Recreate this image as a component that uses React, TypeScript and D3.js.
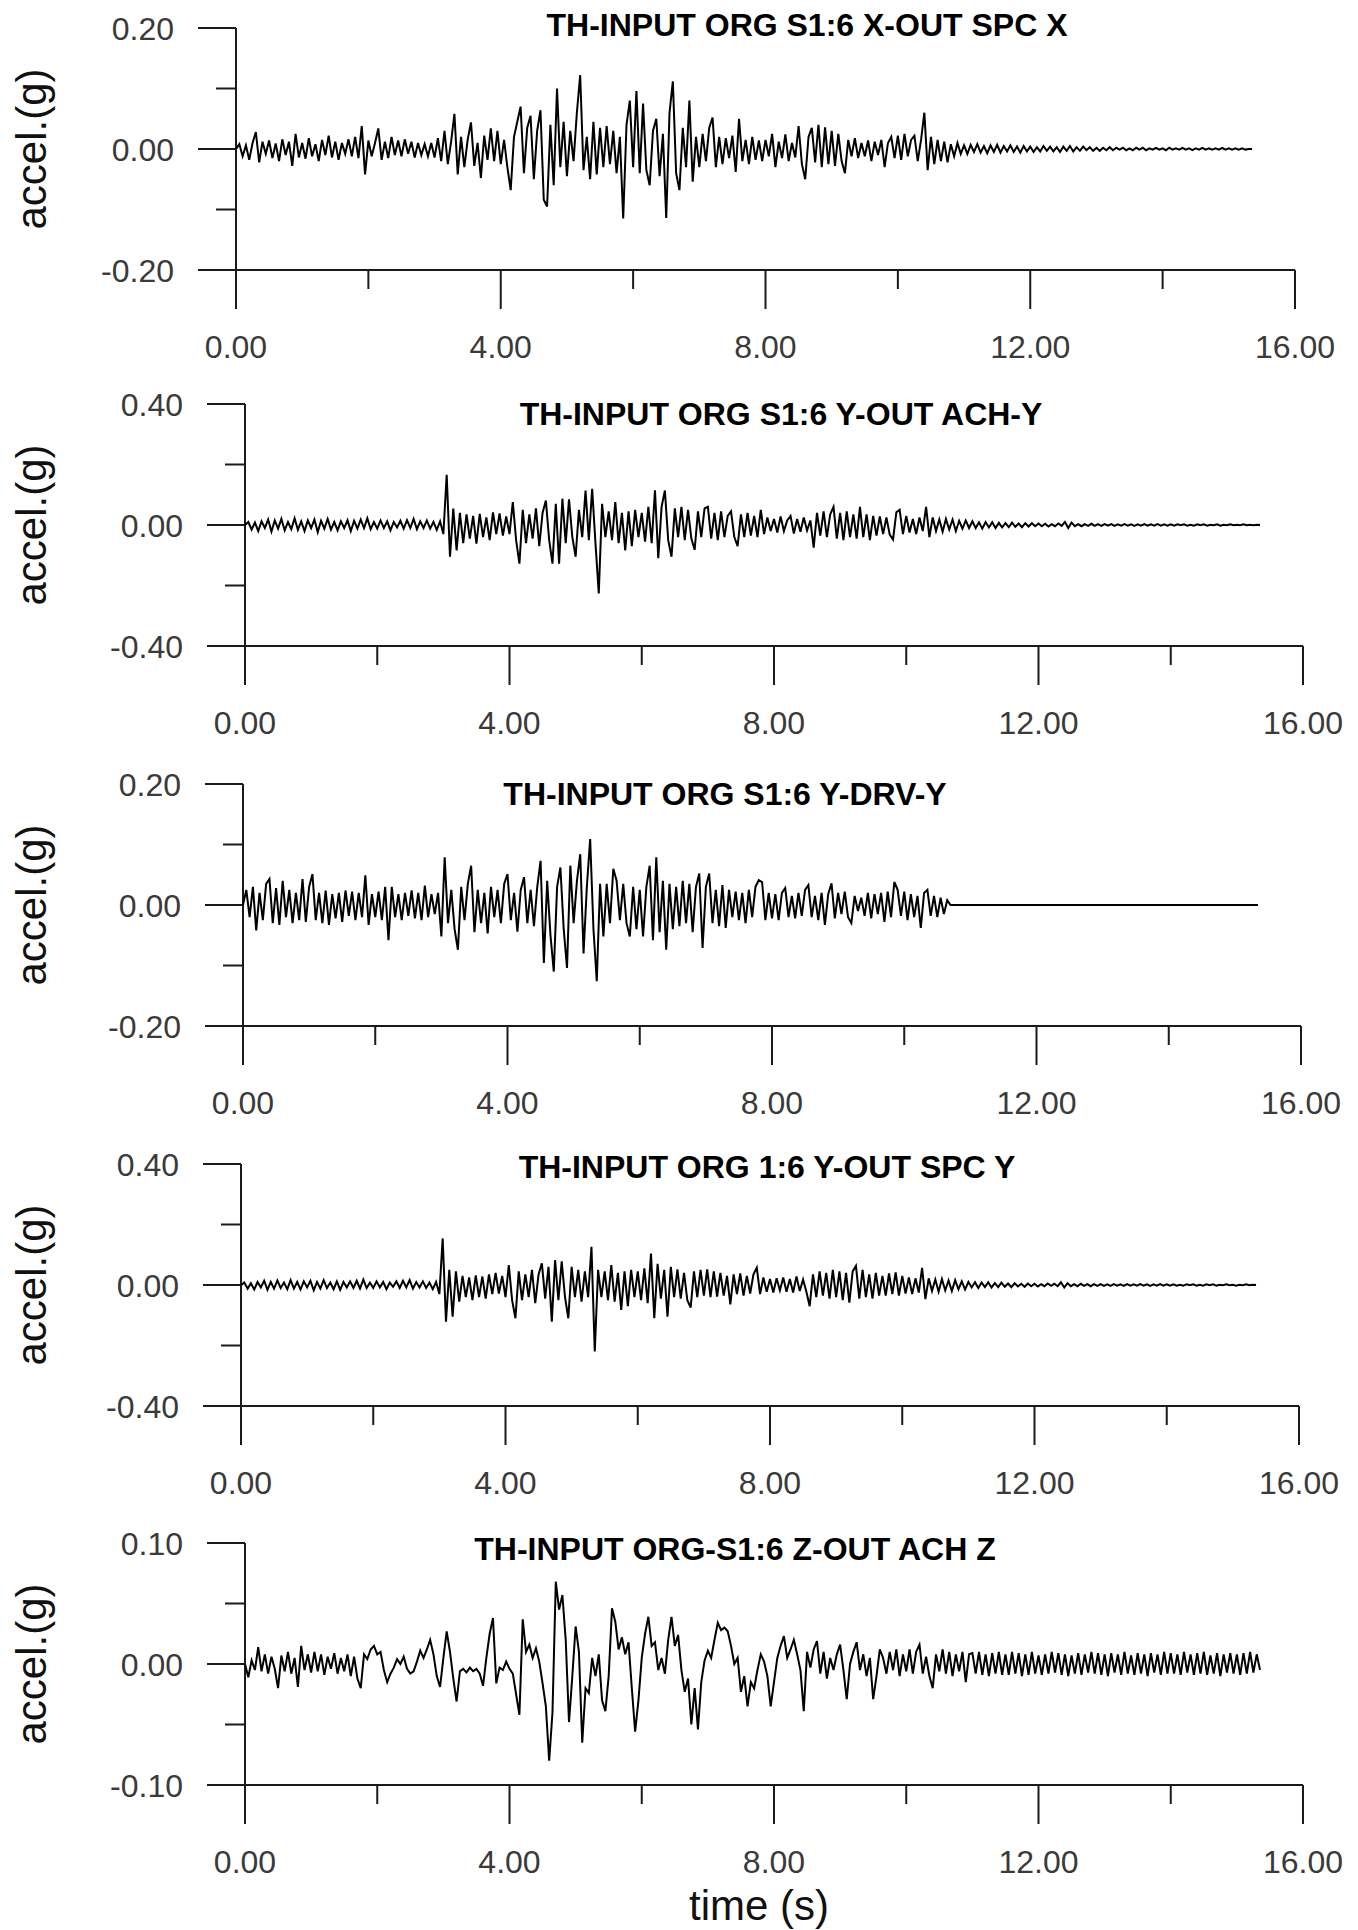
import * as d3 from 'd3';

// sampling interval of the digitised records (s) and value unit (mg -> g)
const DT = 0.05;
const MG = 0.001;

const titles = [
  'TH-INPUT ORG S1:6 X-OUT SPC X',
  'TH-INPUT ORG S1:6 Y-OUT ACH-Y',
  'TH-INPUT ORG S1:6 Y-DRV-Y',
  'TH-INPUT ORG 1:6 Y-OUT SPC Y',
  'TH-INPUT ORG-S1:6 Z-OUT ACH Z',
];

const yLimits = [0.2, 0.4, 0.2, 0.4, 0.1];
const xMajorTicks = [0, 4, 8, 12, 16];
const xMinorTicks = [2, 6, 10, 14];

// accelerations in mg, one row per second
const xOutSpcX = [
  0, 8, -12, 6, -18, 10, 28, -22, 12, -8, 14, -15, 9, -20, 16, -10, 12, -28, 25, -14,
  10, -16, 18, -12, 8, -20, 15, -10, 22, -14, 12, -18, 10, -8, 16, -12, 20, -15, 38, -42,
  14, -12, 10, 34, -18, 12, -15, 20, -10, 14, -12, 16, -8, 12, -14, 10, -10, 8, -12, 10,
  -14, 18, -20, 30, -25, 12, 58, -42, 20, -30, 15, 44, -28, 10, -48, 22, -18, 34, -20, 30,
  -25, 15, -30, -68, 20, 45, 70, -40, 35, 55, -50, 30, 64, -84, -95, 40, -60, 100, -30, 45,
  -45, 30, -20, 60, 122, -35, 20, -50, 45, -42, 35, -30, 38, -25, 30, -40, 20, -115, 40, 80,
  -30, 96, -40, 75, -35, -60, 30, 50, -45, 25, -114, 60, 112, -40, -68, 35, -30, 80, -54, 20,
  -30, 25, -20, 35, 52, -30, 20, -25, 18, -15, 22, -38, 50, -20, 15, -25, 20, -18, 14, -20,
  15, -12, 25, -30, 12, -15, 24, -20, 10, -14, 38, -25, -50, 20, 35, -22, 40, -30, 36, -25,
  30, -28, 25, -20, -40, 15, -12, 18, -15, 10, -12, 14, -20, 12, -10, 15, -30, 10, 20, -15,
  22, -18, 25, -12, 15, 22, -20, 15, 60, -35, 20, -25, 15, -20, 12, -22, 8, -12, 10, -8,
  6, -8, 7, -5, 8, -6, 5, -7, 6, -5, 7, -6, 5, -4, 6, -5, 4, -6, 5, -4,
  4, -5, 3, -4, 5, -3, 4, -4, 3, -5, 4, -3, 5, -4, 3, -3, 4, -2, 3, -3,
  2, -3, 2, -2, 3, -2, 2, -1, 2, -2, 1, -2, 2, -1, 2, -2, 1, -1, 2, -1,
  1, -2, 2, -1, 1, -1, 2, -1, 1, -2, 1, -1, 2, -1, 1, -1, 1, -1, 2, -1,
  1, -1, 1, -1, 1, -1, 0, 0,
];

const yOutAchY = [
  0, 10, -15, 8, -20, 12, -10, 18, -22, 15, -12, 20, -18, 10, -14, 22, -16, 12, -20, 15,
  -10, 18, -24, 14, -12, 20, -15, 10, -18, 12, -10, 16, -20, 14, -12, 18, -10, 22, -14, 10,
  -12, 15, -10, 12, -18, 10, -8, 14, -12, 16, -10, 20, -14, 12, -10, 15, -12, 10, -16, 12,
  -30, 166, -105, 54, -84, 40, -60, 35, -45, 30, -62, 37, -40, 25, -50, 42, -30, 38, -35, 28,
  -30, 76, -50, -128, 50, -60, 35, -45, 55, -70, 40, 81, -50, -128, 70, -128, 87, -60, 85, -40,
  -105, 50, -40, 114, -50, 120, -60, -226, 70, -40, 45, -50, 76, -60, 40, -84, 45, -70, 50, -40,
  40, -55, 60, -60, 115, -110, 60, 114, -50, -105, 55, -40, 60, -50, 50, -45, -82, 45, -40, 55,
  60, -45, 40, -50, 45, -40, 30, 45, -40, -70, 35, -40, 40, -35, 30, -40, 50, -30, 25, -20,
  20, -25, 28, -20, 15, 30, -28, 20, -22, 25, -18, 15, -75, 40, -35, 45, -40, 35, 60, -45,
  40, -50, 45, -40, 35, -45, 60, -40, 35, -50, 30, -35, 28, -30, 25, -32, -48, 42, 50, -30,
  30, -25, 20, -30, 25, -20, 60, -40, 25, -20, 18, -22, 20, -15, 18, -20, 14, -12, 15, -10,
  12, -10, 9, -12, 10, -8, 9, -10, 7, -8, 6, -7, 8, -6, 5, -7, 6, -5, 6, -4,
  5, -4, 4, -5, 3, -4, 5, -3, 10, -10, 8, -4, 3, -4, 3, -3, 4, -3, 3, -3,
  3, -2, 3, -3, 2, -2, 3, -2, 2, -3, 2, -2, 3, -2, 2, -2, 3, -2, 2, -2,
  2, -2, 2, -1, 2, -2, 1, -2, 2, -1, 2, -2, 1, -1, 2, -2, 1, -1, 2, -1,
  1, -1, 2, -1, 1, -1, 1, 0,
];

const yDrvY = [
  0, 25, -20, 30, -42, 20, -25, 35, 43, -30, 28, -33, 40, -20, 25, -30, 20, -25, 43, -28,
  30, 51, -25, 20, -30, 24, -33, 18, -22, 20, -28, 24, -18, 22, -25, 20, -20, 49, -33, 18,
  -20, 22, -25, 30, -58, 30, -20, 18, -25, 20, -18, 24, -22, 20, -25, 32, -20, 18, -15, 20,
  -52, 79, -30, 25, -40, -74, 30, -25, 35, 65, -45, 25, -30, 20, -47, 30, -20, 25, -30, 35,
  51, -25, 20, -44, 25, 46, -30, 25, -35, 30, 73, -96, 40, -50, -110, 30, 62, -40, -104, 65,
  -30, 40, 84, -80, 30, 109, -40, -126, 35, -52, 35, -30, 60, 40, -25, 35, -30, -52, 30, -40,
  25, -52, 30, 65, -58, 79, -45, 40, -74, 35, -40, 30, -35, 40, -30, 35, -45, 30, 52, -71,
  30, 52, -30, 25, -35, 33, -38, 25, -20, 22, -25, 20, -30, 25, -20, 30, 41, 38, -25, 20,
  -22, 18, -25, 20, 28, -20, 15, -22, 20, -18, 25, 33, -20, 15, -25, 20, -33, 18, 36, -22,
  20, -15, 22, -20, -30, 15, -10, 12, -18, 20, -22, 18, -15, 20, -28, 22, -20, 38, 25, -18,
  22, -25, 18, -20, 15, -38, 20, 25, -18, 15, -20, 12, -15, 8, 0, 0, 0, 0, 0, 0,
  0, 0, 0, 0, 0, 0, 0, 0, 0, 0, 0, 0, 0, 0, 0, 0, 0, 0, 0, 0,
  0, 0, 0, 0, 0, 0, 0, 0, 0, 0, 0, 0, 0, 0, 0, 0, 0, 0, 0, 0,
  0, 0, 0, 0, 0, 0, 0, 0, 0, 0, 0, 0, 0, 0, 0, 0, 0, 0, 0, 0,
  0, 0, 0, 0, 0, 0, 0, 0, 0, 0, 0, 0, 0, 0, 0, 0, 0, 0, 0, 0,
  0, 0, 0, 0, 0, 0, 0, 0,
];

const yOutSpcY = [
  0, 8, -12, 6, -15, 10, -8, 14, -16, 10, -12, 15, -10, 8, -14, 16, -12, 10, -15, 12,
  -8, 14, -18, 10, -12, 16, -10, 8, -14, 12, -16, 10, -8, 12, -10, 14, -12, 18, -10, 8,
  -10, 12, -8, 10, -14, 8, -6, 12, -10, 14, -8, 16, -12, 10, -8, 12, -10, 8, -14, 10,
  -30, 154, -121, 50, -105, 45, -55, 30, -40, 25, -50, 32, -40, 28, -45, 35, -30, 40, -28, 30,
  -40, 66, -50, -110, 45, -50, 35, -40, 50, -60, 35, 72, -45, 60, -121, 82, -50, 78, -40, -110,
  60, -40, 50, -55, 45, -40, 126, -220, 50, -40, 45, -50, 66, -55, 40, -82, 45, -70, 50, -40,
  45, -50, 55, -60, 104, -110, 70, -45, 50, -105, 60, -40, 52, -45, 40, -50, -75, 45, -40, 50,
  -35, 52, -40, 45, -38, 40, -35, 30, -64, 35, -30, 38, -35, 30, -28, 35, 57, -30, 25, -22,
  20, -25, 22, -18, 25, -22, 20, -25, 28, -20, 18, -22, -70, 35, -40, 45, -35, 40, -45, 50,
  -40, 45, -50, 40, -58, 45, 63, -45, 50, -40, 35, -45, 40, -35, 30, -35, 38, -30, 42, -35,
  30, -28, 25, -30, 22, -25, 57, -47, 22, -20, 18, -22, 20, -18, 15, -20, 16, -14, 12, -15,
  10, -8, 9, -10, 8, -7, 9, -8, 6, -7, 8, -6, 5, -7, 6, -5, 4, -6, 5, -4,
  4, -5, 3, -4, 5, -3, 4, -4, 9, -8, 6, -4, 3, -4, 4, -3, 3, -4, 3, -3,
  3, -3, 2, -3, 3, -2, 2, -3, 3, -2, 2, -2, 3, -2, 2, -3, 2, -2, 3, -2,
  2, -2, 2, -2, 1, -2, 2, -1, 2, -2, 1, -2, 2, -1, 2, -2, 1, -1, 2, -1,
  1, -2, 1, -1, 2, -1, 1, 0,
];

const zOutAchZ = [
  0, -11, 3, -5, 14, -6, 8, -8, 6, -4, -20, 7, -6, 10, -8, 5, -19, 15, -5, 8,
  -7, 10, -6, 8, -9, 6, -4, 9, -8, 5, -6, 8, -10, 6, -12, -20, 8, 4, 12, 15,
  8, 10, -5, -15, -8, -3, 4, 0, 6, -4, -8, -6, 2, 11, 5, 12, 20, 8, -10, -19,
  5, 27, 10, -12, -31, -6, -4, -7, -3, -6, -4, -8, -18, 5, 25, 38, -16, -3, -5, 2,
  -4, -8, -25, -42, 37, 10, 16, 5, 13, 2, -16, -35, -80, -40, 68, 45, 57, 20, -48, -10,
  31, 10, -65, -20, -24, 5, -10, 8, -30, -39, -10, 46, 35, 12, 22, 8, 18, -20, -56, -30,
  5, 25, 39, 15, 18, -5, 5, -8, 20, 39, 15, 24, -5, -23, -12, -50, -20, -54, -15, 3,
  11, 5, 20, 34, 28, 30, 27, 15, 0, 5, -23, -10, -35, -15, -20, -5, 8, 2, -10, -35,
  -15, 5, 15, 23, 5, 12, 20, 8, -5, -39, 10, -3, 12, 19, -8, 10, -12, 5, -5, 8,
  16, -5, -29, 0, 10, 18, -5, 8, -10, 5, -29, -10, 12, 5, -8, 10, -5, 12, -10, 8,
  -6, 12, -8, 10, 16, -8, 6, -10, -20, 8, -6, 12, -8, 10, -10, 8, -6, 10, -15, 8,
  9, -8, 10, -9, 8, -10, 9, -8, 10, -9, 8, -9, 10, -8, 9, -10, 8, -9, 10, -8,
  7, -9, 8, -8, 10, -7, 9, -9, 8, -10, 7, -8, 9, -9, 8, -7, 10, -8, 9, -9,
  8, -10, 9, -7, 8, -9, 10, -8, 7, -9, 9, -8, 8, -10, 9, -7, 8, -9, 10, -8,
  9, -8, 8, -9, 10, -7, 8, -9, 9, -8, 10, -9, 7, -8, 9, -10, 8, -7, 9, -8,
  8, -9, 9, -8, 10, -7, 8, -5,
];

const records = [xOutSpcX, yOutAchY, yDrvY, yOutSpcY, zOutAchZ];

// panel frames in page pixels
const frames = [
  { left: 236, right: 1295, top: 28, bottom: 270, titleX: 807, titleY: 36 },
  { left: 245, right: 1303, top: 404, bottom: 646, titleX: 781, titleY: 425 },
  { left: 243, right: 1301, top: 784, bottom: 1026, titleX: 725, titleY: 805 },
  { left: 241, right: 1299, top: 1164, bottom: 1406, titleX: 767, titleY: 1178 },
  { left: 245, right: 1303, top: 1543, bottom: 1785, titleX: 735, titleY: 1560 },
];

const INK = '#1a1a1a';
const FONT = '"Liberation Sans", Arial, sans-serif';
const fmt = (v: number) => d3.format('.2f')(v).replace('\u2212', '-');

function Panel({ idx }: { idx: number }) {
  const f = frames[idx];
  const lim = yLimits[idx];
  const x = d3.scaleLinear().domain([0, 16]).range([f.left, f.right]);
  const y = d3.scaleLinear().domain([-lim, lim]).range([f.bottom, f.top]);
  const line = d3
    .line<number>()
    .x((_, i) => x(i * DT))
    .y((d) => y(d * MG));

  const yMajor = [-lim, 0, lim];
  const yMinor = [-lim / 2, lim / 2];

  return (
    <g>
      {/* axes */}
      <line x1={f.left} x2={f.left} y1={f.top} y2={f.bottom} stroke={INK} strokeWidth={2} />
      <line x1={f.left} x2={f.right} y1={f.bottom} y2={f.bottom} stroke={INK} strokeWidth={2} />
      {yMajor.map((v) => (
        <g key={'ym' + v}>
          <line x1={f.left - 38} x2={f.left} y1={y(v)} y2={y(v)} stroke={INK} strokeWidth={2} />
          <text
            x={f.left - 62}
            y={y(v) + 11.5}
            textAnchor="end"
            fontSize={32}
            fontFamily={FONT}
            fill="#3a3a3a"
          >
            {fmt(v)}
          </text>
        </g>
      ))}
      {yMinor.map((v) => (
        <line key={'yn' + v} x1={f.left - 20} x2={f.left} y1={y(v)} y2={y(v)} stroke={INK} strokeWidth={2} />
      ))}
      {xMajorTicks.map((v) => (
        <g key={'xm' + v}>
          <line x1={x(v)} x2={x(v)} y1={f.bottom} y2={f.bottom + 39} stroke={INK} strokeWidth={2} />
          <text
            x={x(v)}
            y={f.bottom + 88}
            textAnchor="middle"
            fontSize={32}
            fontFamily={FONT}
            fill="#3a3a3a"
          >
            {fmt(v)}
          </text>
        </g>
      ))}
      {xMinorTicks.map((v) => (
        <line key={'xn' + v} x1={x(v)} x2={x(v)} y1={f.bottom} y2={f.bottom + 19} stroke={INK} strokeWidth={2} />
      ))}

      {/* record */}
      <path d={line(records[idx]) || ''} fill="none" stroke="#000" strokeWidth={2} strokeLinejoin="miter" />

      <text
        x={f.titleX}
        y={f.titleY}
        textAnchor="middle"
        fontSize={32}
        fontWeight="bold"
        fontFamily={FONT}
        fill="#000"
      >
        {titles[idx]}
      </text>
      <text
        transform={`translate(46, ${y(0)}) rotate(-90)`}
        textAnchor="middle"
        fontSize={42}
        fontFamily={FONT}
        fill="#111"
      >
        accel.(g)
      </text>
    </g>
  );
}

export default function App() {
  return (
    <svg
      width={1358}
      height={1930}
      style={{ position: 'absolute', left: 0, top: 0, background: '#fff' }}
    >
      <rect width={1358} height={1930} fill="#fff" />
      {frames.map((_, i) => (
        <Panel key={i} idx={i} />
      ))}
      <text x={759} y={1920} textAnchor="middle" fontSize={42} fontFamily={FONT} fill="#111">
        time (s)
      </text>
    </svg>
  );
}
